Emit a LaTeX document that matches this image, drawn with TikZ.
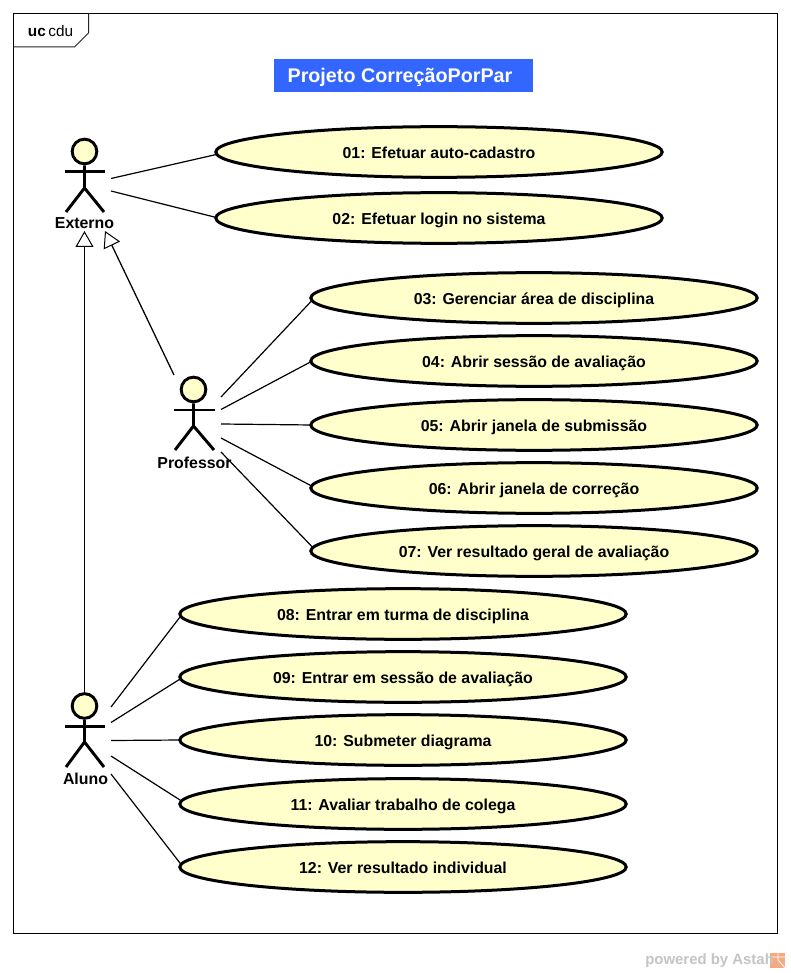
\documentclass[tikz,border=0pt]{standalone}
\usepackage{fontspec}
\setmainfont{Liberation Sans}
\usetikzlibrary{arrows.meta,shapes.geometric,backgrounds}
\definecolor{ucfill}{HTML}{FFFFCC}
\definecolor{titleblue}{HTML}{3366FF}
\definecolor{astahgray}{HTML}{C4C4C4}
\definecolor{astahorange}{HTML}{F4A97F}
\newcommand{\uclabel}[1]{\raisebox{-5pt}[0pt][0pt]{#1}}
\tikzset{
  x=0.75pt,y=-0.75pt,
  usecase/.style={ellipse,draw=black,line width=2.25pt,fill=ucfill,minimum width=334.8pt,minimum height=38pt,inner sep=0pt,font=\bfseries\fontsize{11.9}{13}\selectfont,text=black},
  assoc/.style={draw=black,line width=0.9pt},
  gen/.style={draw=black,line width=0.95pt,-{Triangle[open,fill=white,length=12pt,width=13.5pt,line width=0.75pt]}},
  actorhead/.style={circle,draw=black,line width=2.2pt,fill=ucfill,minimum size=18.5pt,inner sep=0pt},
  actorlimb/.style={draw=black,line width=2.2pt},
  actorname/.style={font=\bfseries\fontsize{11.9}{13}\selectfont,inner sep=0pt,text=black},
}
\begin{document}
\begin{tikzpicture}
\useasboundingbox (0,0) rectangle (790,973);
% frame
\draw[black,line width=0.85pt] (13.5,13.5) rectangle (777.5,933.5);
\draw[black!85,line width=0.75pt] (13.5,47) -- (74.5,47) -- (88.5,33) -- (88.5,13.5);
\node[inner sep=0pt,font=\fontsize{11.5}{13}\selectfont] (frametag) at (50.5,31.5) {\textbf{uc}\,cdu};
% title
\node[fill=titleblue,minimum width=194.25pt,minimum height=24.75pt,inner sep=0pt] (title) at (403.5,75.5) {};
\node[text=white,font=\bfseries\fontsize{14.8}{16}\selectfont,inner sep=0pt] (titletext) at (400,77.5) {Projeto CorreçãoPorPar};
% use cases
\node[usecase] (u1) at (439,152) {\uclabel{01: Efetuar auto-cadastro}};
\node[usecase] (u2) at (439,218) {\uclabel{02: Efetuar login no sistema}};
\node[usecase] (u3) at (534,298) {\uclabel{03: Gerenciar área de disciplina}};
\node[usecase] (u4) at (534,361) {\uclabel{04: Abrir sessão de avaliação}};
\node[usecase] (u5) at (534,425) {\uclabel{05: Abrir janela de submissão}};
\node[usecase] (u6) at (534,488) {\uclabel{06: Abrir janela de correção}};
\node[usecase] (u7) at (534,551) {\uclabel{07: Ver resultado geral de avaliação}};
\node[usecase] (u8) at (403,614) {\uclabel{08: Entrar em turma de disciplina}};
\node[usecase] (u9) at (403,677) {\uclabel{09: Entrar em sessão de avaliação}};
\node[usecase] (u10) at (403,740) {\uclabel{10: Submeter diagrama}};
\node[usecase] (u11) at (403,804) {\uclabel{11: Avaliar trabalho de colega}};
\node[usecase] (u12) at (403,867) {\uclabel{12: Ver resultado individual}};
% actor Externo
\node[actorhead] (exthead) at (84.5,151.5) {};
\draw[actorlimb] (65,171.5) -- (105,171.5);
\draw[actorlimb] (exthead.south) -- (84.5,188) (66,212) -- (84.5,188) -- (104,212);
\node[actorname] (externo) at (84.5,223.5) {Externo};
% actor Professor
\node[actorhead] (profhead) at (193.5,389.5) {};
\draw[actorlimb] (174,410) -- (215,410);
\draw[actorlimb] (profhead.south) -- (193.5,426) (175,450) -- (193.5,426) -- (214,450);
\node[actorname] (professor) at (194.5,462.5) {Professor};
% actor Aluno
\node[actorhead] (aluhead) at (84.5,706) {};
\draw[actorlimb] (65,726.5) -- (105,726.5);
\draw[actorlimb] (aluhead.south) -- (84.5,742) (66,767) -- (84.5,742) -- (104,767);
\node[actorname] (aluno) at (85.5,778.5) {Aluno};
% connector free ends
\coordinate (e1) at (111,178.5);
\coordinate (e2) at (111,191);
\coordinate (p3) at (221,397);
\coordinate (p4) at (221,409.5);
\coordinate (p5) at (221,424);
\coordinate (p6) at (221,438);
\coordinate (p7) at (221,452);
\coordinate (a8) at (111,707);
\coordinate (a9) at (111,722.5);
\coordinate (a10) at (111,740.5);
\coordinate (a11) at (111,756);
\coordinate (a12) at (111,774);
\coordinate (gpf) at (174,375);
\coordinate (gext1) at (105,231);
\coordinate (gext2) at (84.5,231);
% associations run under the use case ellipses
\begin{scope}[on background layer]
\fill[white] (0,0) rectangle (790,973);
\draw[assoc] (e1) -- ([xshift=9.75pt]u1.west);
\draw[assoc] (e2) -- ([xshift=3pt]u2.west);
\draw[assoc] (p3) -- ([xshift=3.75pt]u3.west);
\draw[assoc] (p4) -- ([xshift=2.25pt]u4.west);
\draw[assoc] (p5) -- ([xshift=2.25pt]u5.west);
\draw[assoc] (p6) -- ([xshift=4.5pt]u6.west);
\draw[assoc] (p7) -- ([xshift=3pt,yshift=2.25pt]u7.west);
\draw[assoc] (a8) -- ([xshift=3pt]u8.west);
\draw[assoc] (a9) -- ([xshift=3.75pt]u9.west);
\draw[assoc] (a10) -- ([xshift=2.25pt]u10.west);
\draw[assoc] (a11) -- ([xshift=6pt]u11.west);
\draw[assoc] (a12) -- ([xshift=3pt,yshift=0.75pt]u12.west);
\end{scope}
% generalizations
\draw[gen] (aluhead.north) -- (gext2);
\draw[gen] (gpf) -- (gext1);
% footer
\fill[astahorange] (770,953) rectangle (785,968);
\draw[white,line width=0.6pt] (778,953) -- (778,960) (771,957) -- (785,957) (778,960) -- (785,968);
\node[inner sep=0pt,anchor=west,text=astahgray,font=\bfseries\fontsize{11.2}{13}\selectfont] (footer) at (645,961) {powered by Astah};
\end{tikzpicture}
\end{document}
